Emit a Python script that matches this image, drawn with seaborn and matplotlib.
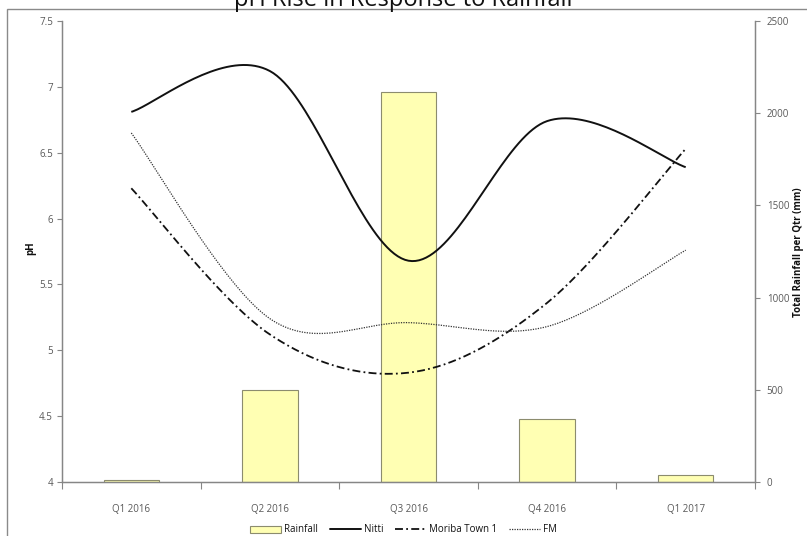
import numpy as np
import matplotlib
matplotlib.use('Agg')
import matplotlib.pyplot as plt
import seaborn as sns
from matplotlib.patches import Patch, Rectangle
from matplotlib.lines import Line2D
from matplotlib.ticker import FuncFormatter

quarters = ['Q1 2016', 'Q2 2016', 'Q3 2016', 'Q4 2016', 'Q1 2017']
rainfall = [9, 500, 2114, 341, 40]
nitti = [6.81, 7.12, 5.68, 6.74, 6.39]
moriba = [6.23, 5.12, 4.83, 5.36, 6.53]
fm = [6.65, 5.24, 5.21, 5.18, 5.76]

sns.set_style('ticks')
plt.rcParams['font.family'] = ['Open Sans', 'DejaVu Sans']


def smooth(yv, n=40):
    # excel-style smoothed line (bezier through the points)
    pts = np.column_stack([np.arange(len(yv)), yv]).astype(float)
    ext = np.vstack([pts[0], pts, pts[-1]])
    segs = []
    t = np.linspace(0, 1, n)[:, None]
    for i in range(len(pts) - 1):
        p0, p1, p2, p3 = ext[i], ext[i + 1], ext[i + 2], ext[i + 3]
        c1 = p1 + (p2 - p0) / 6
        c2 = p2 - (p3 - p1) / 6
        seg = (1 - t)**3 * p1 + 3 * (1 - t)**2 * t * c1 + 3 * (1 - t) * t**2 * c2 + t**3 * p2
        segs.append(seg if i == 0 else seg[1:])
    return np.vstack(segs)


fig = plt.figure(figsize=(8.07, 5.36), dpi=100)
ax = fig.add_axes([62 / 807, (536 - 482) / 536, (755 - 62) / 807, (482 - 21) / 536])

gray = '#868686'
txt = '#595959'

sns.barplot(x=quarters, y=rainfall, ax=ax, color='#FFFFB3', saturation=1,
            width=0.4, edgecolor='#8c8c6e', linewidth=0.8)
ax.set_ylim(0, 2500)
ax.set_xlim(-0.5, 4.5)

ax_ph = ax.twinx()
ax.yaxis.tick_right()
ax_ph.yaxis.tick_left()

c = smooth(nitti)
ax_ph.plot(c[:, 0], c[:, 1], color='#111111', lw=1.4, solid_capstyle='butt')
c = smooth(moriba)
ax_ph.plot(c[:, 0], c[:, 1], color='#111111', lw=1.3, dashes=(4.4, 1.8, 1.0, 1.8))
c = smooth(fm)
ax_ph.plot(c[:, 0], c[:, 1], color='#333333', lw=0.9, dashes=(1, 1))
ax_ph.set_ylim(4, 7.5)
ax_ph.set_yticks(np.arange(4, 7.51, 0.5))
ax_ph.yaxis.set_major_formatter(FuncFormatter(lambda v, p: '%g' % v))

ax.set_yticks(np.arange(0, 2501, 500))
ax.set_xticks(range(5))
ax.set_xticklabels(quarters)
ax.set_xticks(np.arange(-0.5, 5, 1), minor=True)
ax.tick_params(axis='x', which='major', length=0, pad=16, labelsize=7, labelcolor=txt)
ax.tick_params(axis='x', which='minor', length=5, color=gray, width=0.8)
ax.tick_params(axis='y', length=3.5, color=gray, width=0.8, labelsize=7, labelcolor=txt, pad=5)
ax_ph.tick_params(axis='y', length=3.5, color=gray, width=0.8, labelsize=7, labelcolor=txt, pad=3)

for a in (ax, ax_ph):
    a.spines['top'].set_visible(False)
    for s in ('left', 'right', 'bottom'):
        a.spines[s].set_color(gray)
        a.spines[s].set_linewidth(0.9)

ax.set_xlabel('')
ax.set_ylabel('')
ax_ph.set_ylabel('')
fig.text(31 / 807, 1 - 248 / 536, 'pH', rotation=90, ha='center', va='center',
         fontsize=7, fontweight='bold', color='#111111')
fig.text(798 / 807, 1 - 252 / 536, 'Total Rainfall per Qtr (mm)', rotation=90, ha='center',
         va='center', fontsize=7, fontweight='bold', color='#111111')

fig.text(0.5, 1 - 6 / 536, 'pH Rise in Response to Rainfall', ha='center', va='baseline',
         fontsize=17, color='#111111')

fig.patches.append(Rectangle((7 / 807, -0.02), 1.1, 1 - 9 / 536 + 0.02, transform=fig.transFigure,
                             fill=False, edgecolor='#8a8a8a', linewidth=1.0, clip_on=False))

handles = [Patch(facecolor='#FFFFB3', edgecolor='#8c8c6e', linewidth=0.8),
           Line2D([], [], color='#111111', lw=1.4),
           Line2D([], [], color='#111111', lw=1.3, dashes=(4.4, 1.8, 1.0, 1.8)),
           Line2D([], [], color='#333333', lw=0.9, dashes=(1, 1))]
fig.legend(handles, ['Rainfall', 'Nitti', 'Moriba Town 1', 'FM'], loc='center',
           bbox_to_anchor=(0.5, 1 - 530 / 536), ncol=4, frameon=False, fontsize=7,
           handlelength=3.2, handletextpad=0.3, columnspacing=1.2, labelcolor='#111111')

fig.savefig('out.png', dpi=100)
